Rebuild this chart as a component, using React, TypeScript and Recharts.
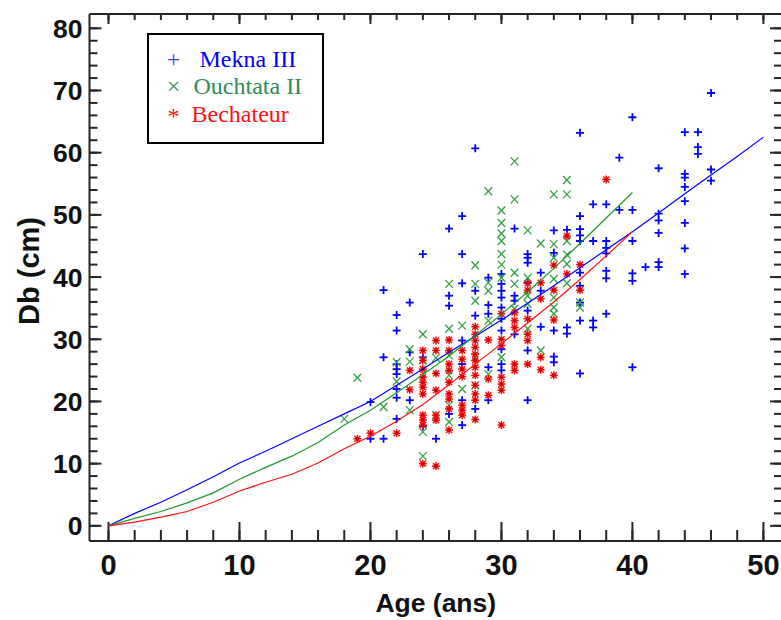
import { ScatterChart, Scatter, XAxis, YAxis, Legend } from 'recharts'

// tick values
const ageTicks = [0, 2, 4, 6, 8, 10, 12, 14, 16, 18, 20, 22, 24, 26, 28, 30, 32, 34, 36, 38, 40, 42, 44, 46, 48, 50]
const ageLabels = [0, 10, 20, 30, 40, 50]
const dbTicks = [0, 2, 4, 6, 8, 10, 12, 14, 16, 18, 20, 22, 24, 26, 28, 30, 32, 34, 36, 38, 40, 42, 44, 46, 48, 50, 52, 54, 56, 58, 60, 62, 64, 66, 68, 70, 72, 74, 76, 78, 80]
const dbLabels = [0, 10, 20, 30, 40, 50, 60, 70, 80]

const seriesNames = ['Mekna III', 'Ouchtata II', 'Bechateur']

// observed [age, Db] pairs
const meknaIII: [number, number][] = [
  [20, 19.9], [20, 14.0],
  [21, 37.9], [21, 27.1], [21, 14.0],
  [22, 33.9], [22, 31.4], [22, 26.0], [22, 25.2], [22, 24.4], [22, 22.0], [22, 20.6], [22, 17.2],
  [23, 35.9], [23, 27.9], [23, 20.2],
  [24, 43.7], [24, 27.1], [24, 16.0],
  [25, 14.0],
  [26, 47.8], [26, 37.0], [26, 35.4], [26, 18.0],
  [27, 49.8], [27, 43.7], [27, 39.0], [27, 29.8], [27, 26.0], [27, 20.2], [27, 16.2],
  [28, 60.7], [28, 37.8], [28, 33.8], [28, 18.8],
  [29, 39.9], [29, 35.5], [29, 34.1], [29, 25.5], [29, 20.2],
  [30, 40.5], [30, 38.9], [30, 37.8], [30, 36.7], [30, 35.1], [30, 33.3], [30, 31.4], [30, 28.4], [30, 26.0], [30, 25.0],
  [31, 47.8], [31, 37.0], [31, 36.2], [31, 30.8],
  [32, 43.7], [32, 43.1], [32, 42.3], [32, 39.1], [32, 34.6], [32, 28.2], [32, 20.2],
  [33, 40.7], [33, 37.8], [33, 32.0],
  [34, 47.5], [34, 43.9], [34, 31.4], [34, 27.2], [34, 26.3],
  [35, 47.6], [35, 31.9], [35, 30.9],
  [36, 63.2], [36, 49.8], [36, 47.7], [36, 46.7], [36, 45.8], [36, 40.7], [36, 38.6], [36, 35.9], [36, 33.0], [36, 24.5],
  [37, 51.7], [37, 45.8], [37, 33.0], [37, 31.9],
  [38, 51.7], [38, 45.8], [38, 44.7], [38, 43.8], [38, 41.0], [38, 39.8], [38, 34.1],
  [39, 59.2], [39, 50.8],
  [40, 65.7], [40, 50.8], [40, 45.8], [40, 40.6], [40, 39.4], [40, 25.5],
  [41, 41.6],
  [42, 57.5], [42, 50.2], [42, 49.1], [42, 47.1], [42, 42.4], [42, 41.6],
  [44, 63.3], [44, 56.6], [44, 56.0], [44, 54.5], [44, 52.2], [44, 48.7], [44, 44.6], [44, 40.5],
  [45, 63.3], [45, 60.9], [45, 59.8],
  [46, 69.6], [46, 57.3], [46, 55.5],
]

const ouchtataII: [number, number][] = [
  [18, 17.2], [19, 23.8], [21, 19.1],
  [22, 26.3], [22, 23.2],
  [23, 28.4], [23, 26.4], [23, 18.6],
  [24, 30.8], [24, 26.6], [24, 24.4], [24, 15.1], [24, 11.2],
  [25, 27.0], [25, 17.8],
  [26, 38.9], [26, 31.7], [26, 27.4], [26, 24.2], [26, 19.4], [26, 16.7],
  [27, 32.2], [27, 22.0],
  [28, 41.9], [28, 38.9], [28, 36.2], [28, 27.1], [28, 22.6],
  [29, 53.8], [29, 39.1], [29, 37.8], [29, 33.0], [29, 24.4],
  [30, 50.7], [30, 48.7], [30, 47.0], [30, 45.8], [30, 43.7], [30, 42.0], [30, 39.9], [30, 27.1],
  [31, 58.6], [31, 52.5], [31, 40.7], [31, 38.9], [31, 34.9],
  [32, 47.5], [32, 39.9], [32, 37.0], [32, 35.7], [32, 31.7],
  [33, 45.4], [33, 28.2],
  [34, 53.3], [34, 45.3], [34, 43.1], [34, 39.7], [34, 36.7], [34, 35.1], [34, 34.1],
  [35, 55.6], [35, 53.3], [35, 45.8], [35, 43.6], [35, 42.1], [35, 39.0],
  [36, 35.9], [36, 35.1],
]

const bechateur: [number, number][] = [
  [19, 14.0], [20, 14.9], [22, 14.9],
  [23, 25.0], [23, 21.9],
  [24, 28.2], [24, 26.6], [24, 25.2], [24, 23.9], [24, 23.1], [24, 22.3], [24, 21.2], [24, 17.8], [24, 17.0], [24, 16.2], [24, 10.0],
  [25, 29.8], [25, 28.2], [25, 24.5], [25, 21.8], [25, 17.8], [25, 17.0], [25, 9.6],
  [26, 29.9], [26, 28.2], [26, 26.0], [26, 25.0], [26, 23.1], [26, 21.2], [26, 20.4], [26, 18.8], [26, 15.4],
  [27, 28.2], [27, 26.8], [27, 25.2], [27, 24.0], [27, 19.4], [27, 18.6], [27, 17.8],
  [28, 32.0], [28, 30.8], [28, 29.8], [28, 28.7], [28, 27.6], [28, 26.6], [28, 25.5], [28, 24.2], [28, 22.6], [28, 21.2], [28, 20.2], [28, 17.1],
  [29, 29.9], [29, 23.6], [29, 21.0],
  [30, 34.1], [30, 30.0], [30, 29.0], [30, 23.9], [30, 22.8], [30, 21.8], [30, 16.2],
  [31, 34.3], [31, 33.0], [31, 31.9], [31, 26.0], [31, 25.0],
  [32, 39.0], [32, 37.9], [32, 33.3], [32, 30.8], [32, 29.8], [32, 26.0],
  [33, 39.1], [33, 36.5], [33, 27.1], [33, 25.1],
  [34, 41.9], [34, 37.9], [34, 33.1], [34, 24.2],
  [35, 46.6], [35, 40.5],
  [36, 42.0], [36, 37.9],
  [38, 55.7],
]

// fitted growth curves
const meknaFit: [number, number][] = [
  [0, 0], [2, 2.0], [4, 3.8], [6, 5.8], [8, 7.9], [10, 10.1], [12, 12.0], [14, 14.0], [16, 16.0], [18, 18.0],
  [20, 20.0], [22, 22.6], [24, 25.2], [26, 27.9], [28, 30.5], [30, 33.1], [32, 35.8], [34, 38.6], [36, 41.5],
  [38, 44.4], [40, 47.3], [42, 50.3], [44, 53.4], [46, 56.4], [48, 59.4], [50, 62.5],
]
const ouchtataFit: [number, number][] = [
  [0, 0], [2, 1.2], [4, 2.3], [6, 3.7], [8, 5.3], [10, 7.5], [12, 9.4], [14, 11.2], [16, 13.4], [18, 16.2],
  [20, 18.6], [22, 21.4], [24, 24.3], [26, 27.3], [28, 30.6], [30, 34.0], [32, 37.6], [34, 41.4], [36, 45.4],
  [38, 49.5], [40, 53.6],
]
const bechateurFit: [number, number][] = [
  [0, 0], [2, 0.6], [4, 1.4], [6, 2.3], [8, 3.8], [10, 5.6], [12, 7.0], [14, 8.3], [16, 10.1], [18, 12.4],
  [20, 14.4], [22, 16.8], [24, 19.5], [26, 22.7], [28, 26.0], [30, 29.3], [32, 32.6], [34, 36.0], [36, 39.6],
  [38, 43.4], [40, 47.3],
]

const toXY = (pts: [number, number][]) => pts.map(([x, y]) => ({ x, y }))

const BLUE = '#0000ff'
const GREEN = '#35a045'
const GREEN_TEXT = '#2e8b57'
const RED = '#ff1010'
const AXIS = '#262626'
const xDomain = [-1.45, 51.42]
const yDomain = [-2.44, 82.3]
// recharts skips axes of zero size, so every axis gets a hair of thickness and all of a side's axes sit on the frame
const HAIR = 0.01
const boldFont = { fontFamily: '"Liberation Sans", Arial, sans-serif', fontWeight: 700 }
const axisLine = { stroke: AXIS, strokeWidth: 2 }
const tickLine = { stroke: AXIS, strokeWidth: 2 }

const PlusMark = (p: any) => (
  <g stroke={BLUE} strokeWidth={1.8}>
    <line x1={p.cx - 4} x2={p.cx + 4} y1={p.cy} y2={p.cy} />
    <line x1={p.cx} x2={p.cx} y1={p.cy - 4} y2={p.cy + 4} />
  </g>
)

const CrossMark = (p: any) => (
  <g stroke={GREEN} strokeWidth={1.3}>
    <line x1={p.cx - 3.8} x2={p.cx + 3.8} y1={p.cy - 4} y2={p.cy + 4} />
    <line x1={p.cx - 3.8} x2={p.cx + 3.8} y1={p.cy + 4} y2={p.cy - 4} />
  </g>
)

const StarMark = (p: any) => (
  <g stroke={RED} strokeWidth={1.5}>
    <line x1={p.cx - 4} x2={p.cx + 4} y1={p.cy} y2={p.cy} />
    <line x1={p.cx} x2={p.cx} y1={p.cy - 4} y2={p.cy + 4} />
    <line x1={p.cx - 3} x2={p.cx + 3} y1={p.cy - 3} y2={p.cy + 3} />
    <line x1={p.cx - 3} x2={p.cx + 3} y1={p.cy + 3} y2={p.cy - 3} />
    <circle cx={p.cx} cy={p.cy} r={2} fill="#d00000" stroke="none" />
  </g>
)

const NoMark = () => <g />

// labels only; tick marks come from tickLine with negative tickSize (inward)
const AgeLabel = ({ x, y, payload }: any) => (
  <text x={x} y={y + 53} textAnchor="middle" fontSize={29} fill="#111" style={boldFont}>
    {payload.value}
  </text>
)

const DbLabel = ({ x, y, payload }: any) => (
  <text x={x - 19} y={y + 9.5} textAnchor="end" fontSize={26.5} fill="#111" style={boldFont}>
    {payload.value}
  </text>
)

const XTitle = ({ viewBox }: any) => (
  <text x={viewBox.x + viewBox.width / 2} y={viewBox.y + 71} textAnchor="middle" fontSize={26.5} fill="#111" style={boldFont}>
    Age (ans)
  </text>
)

const YTitle = ({ viewBox }: any) => {
  const cx = viewBox.x + viewBox.width - 51
  const cy = 271
  return (
    <text x={cx} y={cy} transform={`rotate(-90 ${cx} ${cy})`} textAnchor="middle" fontSize={29} fill="#111" style={boldFont}>
      Db (cm)
    </text>
  )
}

const legendSymbols = ['+', '×', '*']
const legendColors = [BLUE, GREEN_TEXT, RED]

const LegendBox = () => (
  <svg width={178} height={112} style={{ display: 'block' }}>
    <rect x={1} y={1} width={175} height={109} fill="#fff" stroke="#000" strokeWidth={2} />
    {seriesNames.map((name, i) => (
      <g key={name} fontFamily='"Liberation Serif", "Times New Roman", serif' fontSize={24} fill={legendColors[i]}>
        <text x={26.5} y={i === 2 ? 91 : 34 + i * 27.3} textAnchor="middle" fill={i === 0 ? '#4040ff' : legendColors[i]}>
          {legendSymbols[i]}
        </text>
        <text x={[52.5, 46.5, 44.5][i]} y={34 + i * 27.3}>{name}</text>
      </g>
    ))}
  </svg>
)

export default function App() {
  return (
    <div style={{ position: 'absolute', left: 0, top: 0, width: 781, height: 620, overflow: 'hidden', background: '#fff' }}>
      <ScatterChart width={800} height={620} margin={{ top: 13.98, right: 17.98, bottom: 78.98, left: 89.48 }}>
        {/* bottom: major ticks with labels, minor ticks with the frame line */}
        <XAxis xAxisId="x" type="number" dataKey="x" domain={xDomain} allowDataOverflow ticks={ageLabels} interval={0}
          height={HAIR} tickSize={-19} tickMargin={0} tick={<AgeLabel />} tickLine={tickLine} axisLine={false} label={<XTitle />} />
        <XAxis xAxisId="xm" type="number" dataKey="x" domain={xDomain} allowDataOverflow ticks={ageTicks} interval={0}
          height={HAIR} tickSize={-11} tickMargin={0} tick={<NoMark />} tickLine={tickLine} axisLine={axisLine} />
        {/* top */}
        <XAxis xAxisId="xt" orientation="top" type="number" dataKey="x" domain={xDomain} allowDataOverflow ticks={ageTicks} interval={0}
          height={HAIR} tickSize={-6} tickMargin={0} tick={<NoMark />} tickLine={tickLine} axisLine={axisLine} />
        <XAxis xAxisId="xtM" orientation="top" type="number" dataKey="x" domain={xDomain} allowDataOverflow ticks={ageLabels} interval={0}
          height={HAIR} tickSize={-10} tickMargin={0} tick={<NoMark />} tickLine={tickLine} axisLine={false} />
        {/* left */}
        <YAxis yAxisId="y" type="number" dataKey="y" domain={yDomain} allowDataOverflow ticks={dbLabels} interval={0}
          width={HAIR} tickSize={-12} tickMargin={0} tick={<DbLabel />} tickLine={tickLine} axisLine={false} label={<YTitle />} />
        <YAxis yAxisId="ym" type="number" dataKey="y" domain={yDomain} allowDataOverflow ticks={dbTicks} interval={0}
          width={HAIR} tickSize={-8} tickMargin={0} tick={<NoMark />} tickLine={tickLine} axisLine={axisLine} />
        {/* right */}
        <YAxis yAxisId="yr" orientation="right" type="number" dataKey="y" domain={yDomain} allowDataOverflow ticks={dbTicks} interval={0}
          width={HAIR} tickSize={-8} tickMargin={0} tick={<NoMark />} tickLine={tickLine} axisLine={axisLine} />
        <YAxis yAxisId="yrM" orientation="right" type="number" dataKey="y" domain={yDomain} allowDataOverflow ticks={dbLabels} interval={0}
          width={HAIR} tickSize={-12} tickMargin={0} tick={<NoMark />} tickLine={tickLine} axisLine={false} />
        <Legend
          layout="horizontal"
          verticalAlign="middle"
          align="center"
          content={<LegendBox />}
          wrapperStyle={{ left: 146.5, top: 33, width: 178, height: 112 }}
        />

        <Scatter name={seriesNames[0]} xAxisId="x" yAxisId="y" data={toXY(meknaIII)} shape={PlusMark} isAnimationActive={false} />
        <Scatter name={seriesNames[1]} xAxisId="x" yAxisId="y" data={toXY(ouchtataII)} shape={CrossMark} isAnimationActive={false} />
        <Scatter name={seriesNames[2]} xAxisId="x" yAxisId="y" data={toXY(bechateur)} shape={StarMark} isAnimationActive={false} />
        <Scatter xAxisId="x" yAxisId="y" data={toXY(meknaFit)} shape={NoMark} line={{ stroke: BLUE, strokeWidth: 1.2 }} legendType="none" isAnimationActive={false} />
        <Scatter xAxisId="x" yAxisId="y" data={toXY(ouchtataFit)} shape={NoMark} line={{ stroke: '#1f9a2f', strokeWidth: 1.2 }} legendType="none" isAnimationActive={false} />
        <Scatter xAxisId="x" yAxisId="y" data={toXY(bechateurFit)} shape={NoMark} line={{ stroke: RED, strokeWidth: 1.2 }} legendType="none" isAnimationActive={false} />

        {/* invisible series so that the frame-only axes are in use */}
        <Scatter xAxisId="xm" yAxisId="ym" data={toXY(meknaFit)} shape={NoMark} legendType="none" isAnimationActive={false} />
        <Scatter xAxisId="xt" yAxisId="yr" data={toXY(meknaFit)} shape={NoMark} legendType="none" isAnimationActive={false} />
        <Scatter xAxisId="xtM" yAxisId="yrM" data={toXY(meknaFit)} shape={NoMark} legendType="none" isAnimationActive={false} />
      </ScatterChart>
    </div>
  )
}
